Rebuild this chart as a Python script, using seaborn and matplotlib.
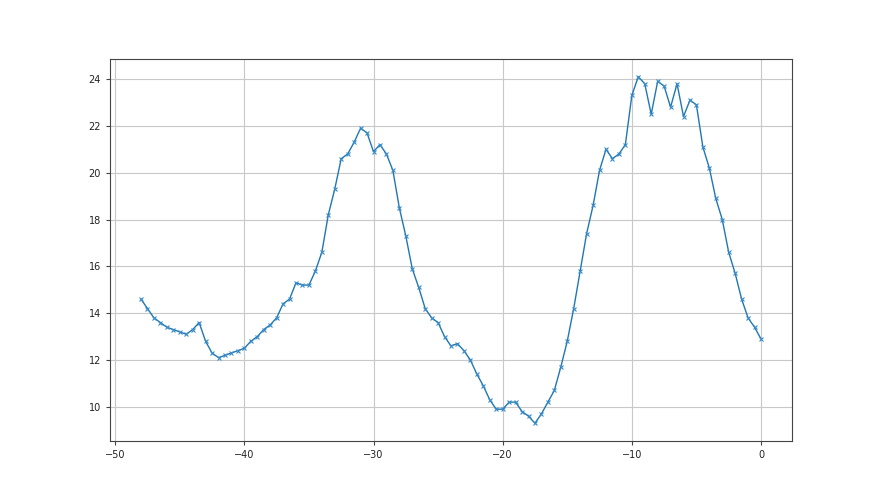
import numpy as np
import pandas as pd
import matplotlib
matplotlib.use("Agg")
import matplotlib.pyplot as plt
import seaborn as sns

x_vals = [-48.0, -47.5, -47.0, -46.5, -46.0, -45.5, -45.0, -44.5, -44.0, -43.5,
          -43.0, -42.5, -42.0, -41.5, -41.0, -40.5, -40.0, -39.5, -39.0, -38.5,
          -38.0, -37.5, -37.0, -36.5, -36.0, -35.5, -35.0, -34.5, -34.0, -33.5,
          -33.0, -32.5, -32.0, -31.5, -31.0, -30.5, -30.0, -29.5, -29.0, -28.5,
          -28.0, -27.5, -27.0, -26.5, -26.0, -25.5, -25.0, -24.5, -24.0, -23.5,
          -23.0, -22.5, -22.0, -21.5, -21.0, -20.5, -20.0, -19.5, -19.0, -18.5,
          -18.0, -17.5, -17.0, -16.5, -16.0, -15.5, -15.0, -14.5, -14.0, -13.5,
          -13.0, -12.5, -12.0, -11.5, -11.0, -10.5, -10.0, -9.5, -9.0, -8.5,
          -8.0, -7.5, -7.0, -6.5, -6.0, -5.5, -5.0, -4.5, -4.0, -3.5,
          -3.0, -2.5, -2.0, -1.5, -1.0, -0.5, 0.0]
y_vals = [14.6, 14.2, 13.8, 13.6, 13.4, 13.3, 13.2, 13.1, 13.3, 13.6,
          12.8, 12.3, 12.1, 12.2, 12.3, 12.4, 12.5, 12.8, 13.0, 13.3,
          13.5, 13.8, 14.4, 14.6, 15.3, 15.2, 15.2, 15.8, 16.6, 18.2,
          19.3, 20.6, 20.8, 21.3, 21.9, 21.7, 20.9, 21.2, 20.8, 20.1,
          18.5, 17.3, 15.9, 15.1, 14.2, 13.8, 13.6, 13.0, 12.6, 12.7,
          12.4, 12.0, 11.4, 10.9, 10.3, 9.9, 9.9, 10.2, 10.2, 9.8,
          9.6, 9.3, 9.7, 10.2, 10.7, 11.7, 12.8, 14.2, 15.8, 17.4,
          18.6, 20.1, 21.0, 20.6, 20.8, 21.2, 23.3, 24.1, 23.8, 22.5,
          23.9, 23.7, 22.8, 23.8, 22.4, 23.1, 22.9, 21.1, 20.2, 18.9,
          18.0, 16.6, 15.7, 14.6, 13.8, 13.4, 12.9]

df = pd.DataFrame({"x": x_vals, "y": y_vals})

fig, ax = plt.subplots(figsize=(8.8, 4.95), dpi=100)
sns.lineplot(data=df, x="x", y="y", ax=ax, color="#1f77b4", marker="x",
             markersize=3.5, markeredgewidth=0.8, markeredgecolor="#3a8cc8",
             linewidth=1.0)
ax.grid(True, color="#c8c8c8", linewidth=0.8)
ax.set_axisbelow(True)
ax.set_xlabel("")
ax.set_ylabel("")
ax.set_xticks([-50, -40, -30, -20, -10, 0])
ax.set_yticks([10, 12, 14, 16, 18, 20, 22, 24])
ax.tick_params(labelsize=7, length=3, color="#444444", labelcolor="#222222")
for s in ax.spines.values():
    s.set_color("#444444")
fig.savefig("out.png", dpi=100)
